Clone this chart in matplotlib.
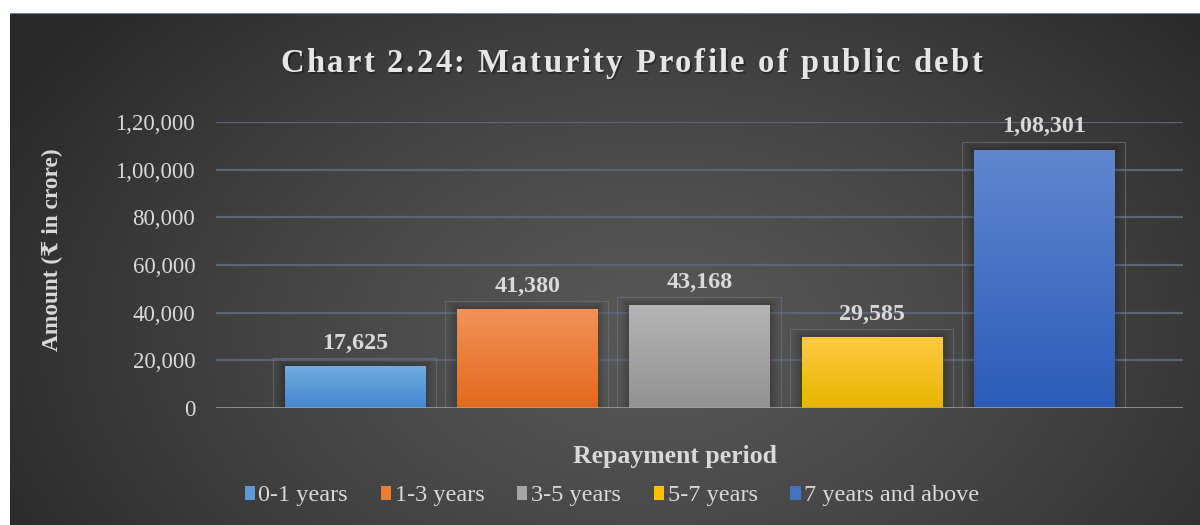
import numpy as np
import matplotlib
matplotlib.use("Agg")
import matplotlib.pyplot as plt
from matplotlib.font_manager import FontProperties
from matplotlib.patches import Rectangle

# ---------------- data ----------------
series = ["0-1 years", "1-3 years", "3-5 years", "5-7 years", "7 years and above"]
values = [17625, 41380, 43168, 29585, 108301]
yticks = [0, 20000, 40000, 60000, 80000, 100000, 120000]
title = "Chart 2.24: Maturity Profile of public debt"
ylabel = "Amount (\u20b9 in crore)"
xlabel = "Repayment period"

# colours (top, bottom) for gradient fills
grad_top = ["#74ABE1", "#F29259", "#B4B4B4", "#FFCA40", "#5F87D0"]
grad_bot = ["#4388CF", "#E3691B", "#929292", "#E8B400", "#2C5CB8"]
solid = ["#5B9BD5", "#ED7D31", "#A5A5A5", "#FFC000", "#4472C4"]

TXT = "#d9d9d9"
SERIF = "Liberation Serif"
SERIF_LIST = ["Liberation Serif", "DejaVu Serif", "DejaVu Sans"]


def indian(n):
    s = str(int(round(n)))
    if len(s) <= 3:
        return s
    last3 = s[-3:]
    rest = s[:-3]
    parts = []
    while len(rest) > 2:
        parts.insert(0, rest[-2:])
        rest = rest[:-2]
    if rest:
        parts.insert(0, rest)
    return ",".join(parts + [last3])


W, H = 1200, 525
fig = plt.figure(figsize=(W / 100, H / 100), dpi=100)
fig.patch.set_facecolor("white")

# ---------------- background ----------------
bx0, by0 = 10, 13
bg = fig.add_axes([bx0 / W, 0, (W - bx0) / W, (H - by0) / H])
bg.set_axis_off()
ny, nx = 256, 600
yy, xx = np.mgrid[0:ny, 0:nx]
cx, cy = 0.54 * nx, 0.62 * ny
d = np.sqrt(((xx - cx) / (0.62 * nx)) ** 2 + ((yy - cy) / (0.95 * ny)) ** 2)
d = np.clip(d, 0, 1)
v = (0x57 - (0x57 - 0x29) * d ** 1.3) / 255.0
img = np.dstack([v, v, v])
bg.imshow(img, aspect="auto", extent=[0, 1, 0, 1], origin="upper")
bg.set_xlim(0, 1)
bg.set_ylim(0, 1)
bg.axhline(1, color="#6f7f95", lw=1.5)

# ---------------- main axes ----------------
ax_l, ax_r = 216, 1183
ax_b, ax_t = 408, 122
ax = fig.add_axes([ax_l / W, (H - ax_b) / H, (ax_r - ax_l) / W, (ax_b - ax_t) / H])
ax.set_facecolor("none")
for s in ax.spines.values():
    s.set_visible(False)

x = np.arange(len(values))
bw = 0.813
bars = ax.bar(x, values, width=bw, color=solid, zorder=3)
ax.set_xlim(-0.807, len(values) - 1 + 0.807)
ax.set_ylim(0, 120000)

inv = ax.transData.inverted()
for i, p in enumerate(bars.patches):
    x0, y0 = p.get_x(), p.get_y()
    w, h = p.get_width(), p.get_height()
    t = np.array(matplotlib.colors.to_rgb(grad_top[i]))
    b = np.array(matplotlib.colors.to_rgb(grad_bot[i]))
    f = np.linspace(0, 1, 100)[:, None]
    g = (t[None, :] * (1 - f) + b[None, :] * f)[:, None, :]
    im = ax.imshow(g, extent=[x0, x0 + w, y0, y0 + h], aspect="auto",
                   origin="upper", zorder=4, interpolation="bilinear")
    im.set_clip_path(p)

    disp = ax.transData.transform([[x0, y0], [x0 + w, y0 + h]])
    # soft shadow (layers of expanded translucent rectangles)
    for k, a in [(8, 0.03), (6, 0.04), (4, 0.05), (2, 0.06)]:
        (sx0, sy0), (sx1, sy1) = inv.transform([[disp[0, 0] - k, disp[0, 1]],
                                                [disp[1, 0] + k, disp[1, 1] + k]])
        ax.add_patch(Rectangle((sx0, sy0), sx1 - sx0, sy1 - sy0, facecolor="black",
                               edgecolor="none", alpha=a, zorder=2.5))
    # faint outline box
    (ex0, ey0), (ex1, ey1) = inv.transform([[disp[0, 0] - 12, disp[0, 1]],
                                            [disp[1, 0] + 11, disp[1, 1] + 8]])
    ax.add_patch(Rectangle((ex0, ey0), ex1 - ex0, ey1 - ey0, fill=False,
                           edgecolor="#69707f", lw=0.8, alpha=0.7, zorder=2.6))

    ax.annotate(indian(values[i]), (x0 + w / 2, y0 + h), xytext=(0, 9),
                textcoords="offset points", ha="center", va="bottom",
                fontsize=17.3, fontweight="bold", family=SERIF, color=TXT,
                zorder=6, annotation_clip=False)

# grid
for yv in yticks[1:]:
    ax.axhline(yv, color="#5c6476", lw=1.6, zorder=1)
ax.axhline(0, color="#a3a3a3", lw=2, zorder=5, alpha=0.85)

ax.set_yticks(yticks)
ax.set_yticklabels([indian(v) for v in yticks], family=SERIF, fontsize=16.5, color=TXT)
ax.tick_params(axis="y", length=0, pad=15)
ax.set_xticks([])

# axis labels
fig.text(52 / W, 1 - 250 / H, ylabel, rotation=90, ha="center", va="center",
         fontsize=16.8, fontweight="bold", family=SERIF_LIST, color=TXT)
fig.text(675 / W, 1 - 456 / H, xlabel, ha="center", va="center",
         fontsize=18.5, fontweight="bold", family=SERIF, color=TXT)

# legend
handles = [Rectangle((0, 0), 1, 1, facecolor=solid[i], edgecolor="none") for i in range(len(series))]
leg = fig.legend(handles, series, loc="center", bbox_to_anchor=(612 / W, 1 - 496 / H),
                 ncol=len(series), frameon=False, handlelength=0.42, handleheight=0.5,
                 handletextpad=0.15, columnspacing=1.35,
                 prop=FontProperties(family=SERIF, size=17.5))
for t in leg.get_texts():
    t.set_color(TXT)

# title with letter spacing
fig.canvas.draw()
renderer = fig.canvas.get_renderer()
fp = FontProperties(family=SERIF, weight="bold", size=23.5)
spacing = 2.5
widths = []
for c in title:
    if c == " ":
        wa = renderer.get_text_width_height_descent("a a", fp, ismath=False)[0]
        wb = renderer.get_text_width_height_descent("aa", fp, ismath=False)[0]
        widths.append(wa - wb)
    else:
        widths.append(renderer.get_text_width_height_descent(c, fp, ismath=False)[0])
total = sum(widths) + spacing * (len(title) - 1)
cxp = 631.5
xs = cxp - total / 2
base_y = 72
for c, w in zip(title, widths):
    if c != " ":
        fig.text((xs + 1.5) / W, 1 - (base_y + 1.5) / H, c, fontproperties=fp,
                 color="black", alpha=0.35, ha="left", va="baseline")
        fig.text(xs / W, 1 - base_y / H, c, fontproperties=fp, color="#e6e6e6",
                 ha="left", va="baseline")
    xs += w + spacing

fig.savefig("out.png", dpi=100, facecolor=fig.get_facecolor())
